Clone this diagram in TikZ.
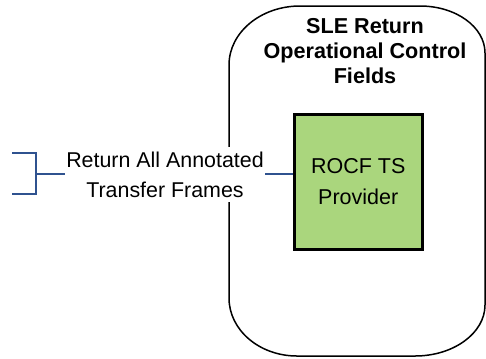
\documentclass[tikz,border=0pt]{standalone}
\usepackage{fontspec}
\setmainfont{Liberation Sans}
\definecolor{boxgreen}{RGB}{170,214,125}
\definecolor{linkblue}{RGB}{47,82,143}
\begin{document}
\begin{tikzpicture}[x=1bp,y=-1bp,
  outline/.style={draw=black,line width=1.5bp,line join=round},
  link/.style={draw=linkblue,line width=1.6bp},
  provider/.style={draw=black,line width=3bp,fill=boxgreen,minimum width=127.5bp,minimum height=134.5bp,inner sep=0pt,align=center,font=\fontsize{21.5bp}{31bp}\selectfont},
  title/.style={inner sep=0pt,align=center,font=\bfseries\fontsize{21.6bp}{25bp}\selectfont},
  linklabel/.style={fill=white,inner xsep=1bp,inner ysep=5bp,align=center,font=\fontsize{21.4bp}{30bp}\selectfont}]
\useasboundingbox (0,0) rectangle (486,358);
% enclosing rounded shape
\draw[outline] (229,65) .. controls (229,32.4) and (260.8,6) .. (300,6)
  -- (420,6) .. controls (456,6) and (485,27) .. (485,53)
  -- (485,305) .. controls (485,333) and (453.7,356) .. (415,356)
  -- (297,356) .. controls (259.4,356) and (229,330) .. (229,298) -- cycle;
\node[title] (ttl) at (365,18) [anchor=north] {SLE Return\\Operational Control\\Fields};
% provider box
\node[provider] (prov) at (358.25,181.75) {ROCF TS\\Provider};
% bracket
\coordinate (bt) at (12,153);
\coordinate (bb) at (12,194);
\coordinate (bm) at (36,174);
\draw[link] (bt) -- (bt -| bm) -- (bb -| bm) -- (bb);
\draw[link] (bm) -- (bm -| prov.west);
\node[linklabel] (lbl) at (165,174.6) {Return All Annotated\\Transfer Frames};
\end{tikzpicture}
\end{document}
